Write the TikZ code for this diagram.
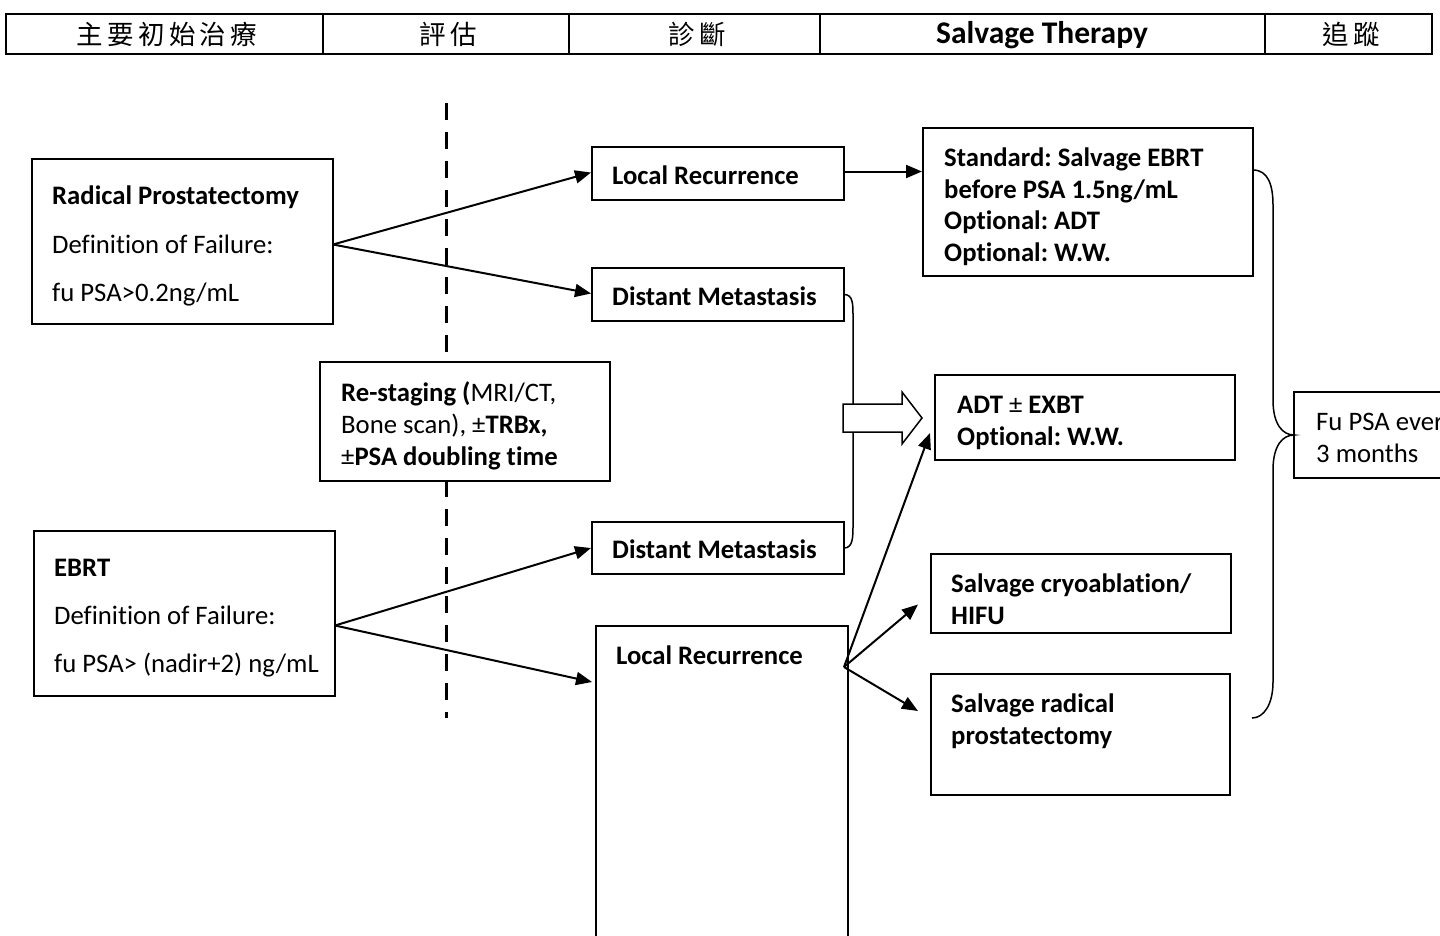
\documentclass[tikz,border=0pt]{standalone}
\usepackage{fontspec}
\setmainfont{Carlito}[Ligatures={TeX,NoCommon}]
\newfontfamily\cjk[LetterSpace=16]{Noto Sans CJK TC}
\usetikzlibrary{arrows.meta,calc}
\frenchspacing
\tikzset{
  box/.style={draw, line width=1.5pt, fill=white, inner sep=0pt, outer sep=0pt, anchor=north west},
  cell/.style={draw, line width=1.8pt, inner sep=0pt, outer sep=0pt, anchor=north west, minimum height=40pt},
  txt/.style={anchor=base west, inner sep=0pt, font=\fontsize{26.7}{32}\selectfont},
  htxt/.style={anchor=base, inner sep=0pt},
  arr/.style={line width=2pt, -{Triangle[length=16pt,width=13pt]}},
  dashline/.style={line width=3pt, dash pattern=on 17pt off 12pt},
  thin/.style={line width=1.5pt}
}
\begin{document}
\begin{tikzpicture}[x=1pt,y=-1pt]
\useasboundingbox (0,0) rectangle (1440,935);
\clip (0,0) rectangle (1440,935);
% header
\node[cell, minimum width=317pt] (h1) at (6,14) {};
\node[cell, minimum width=246pt] (h2) at (323,14) {};
\node[cell, minimum width=251pt] (h3) at (569,14) {};
\node[cell, minimum width=445pt] (h4) at (820,14) {};
\node[cell, minimum width=167pt] (h5) at (1265,14) {};
\node[htxt, font=\cjk\fontsize{26.5}{30}\selectfont] (ht1) at (167,44) {主要初始治療};
\node[htxt, font=\cjk\fontsize{26.5}{30}\selectfont] (ht2) at (448,44) {評估};
\node[htxt, font=\cjk\fontsize{26.5}{30}\selectfont] (ht3) at (697,44) {診斷};
\node[htxt, font=\bfseries\fontsize{31.5}{36}\selectfont] (ht4) at (1042,43) {Salvage Therapy};
\node[htxt, font=\cjk\fontsize{26.5}{30}\selectfont] (ht5) at (1351,44) {追蹤};
% dashed divider
\coordinate (dtop) at (446,103);
\coordinate (dbot) at (446,718);
\draw[dashline] (dtop) -- (dbot);
% boxes
\node[box, minimum width=301pt, minimum height=165pt] (rp) at (32,159) {};
\node[box, minimum width=301pt, minimum height=165pt] (ebrt) at (34,531) {};
\node[box, minimum width=290pt, minimum height=119pt] (restage) at (320,362) {};
\node[box, minimum width=252pt, minimum height=53pt] (lr1) at (592,147) {};
\node[box, minimum width=252pt, minimum height=53pt] (dm1) at (592,268) {};
\node[box, minimum width=252pt, minimum height=52pt] (dm2) at (592,522) {};
\node[box, minimum width=252pt, minimum height=340pt] (lr2) at (596,626) {};
\node[box, minimum width=330pt, minimum height=148pt] (std) at (923,128) {};
\node[box, minimum width=300pt, minimum height=85pt] (adt) at (935,375) {};
\node[box, minimum width=300pt, minimum height=79pt] (cryo) at (931,554) {};
\node[box, minimum width=299pt, minimum height=121pt] (srp) at (931,674) {};
\node[box, minimum width=200pt, minimum height=86pt] (fu) at (1294,392) {};
% texts
\node[txt] (t1) at (52,204) {\textbf{Radical Prostatectomy}};
\node[txt] (t2) at (52,253) {Definition of Failure:};
\node[txt] (t3) at (52,301) {fu PSA>0.2ng/mL};
\node[txt] (t4) at (54,576) {\textbf{EBRT}};
\node[txt] (t5) at (54,624) {Definition of Failure:};
\node[txt] (t6) at (54,672) {fu PSA> (nadir+2) ng/mL};
\node[txt] (t7) at (341,401) {\textbf{Re-staging (}MRI/CT,};
\node[txt] (t8) at (341,433) {Bone scan), ±\textbf{TRBx,}};
\node[txt] (t9) at (341,465) {±\textbf{PSA doubling time}};
\node[txt] (t10) at (612,184) {\textbf{Local Recurrence}};
\node[txt] (t11) at (612,305) {\textbf{Distant Metastasis}};
\node[txt] (t12) at (612,558) {\textbf{Distant Metastasis}};
\node[txt] (t13) at (616,664) {\textbf{Local Recurrence}};
\node[txt] (t14) at (944,166) {\textbf{Standard: Salvage EBRT}};
\node[txt] (t15) at (944,198) {\textbf{before PSA 1.5ng/mL}};
\node[txt] (t16) at (944,229) {\textbf{Optional: ADT}};
\node[txt] (t17) at (944,261) {\textbf{Optional: W.W.}};
\node[txt] (t18) at (957,413) {\textbf{ADT} ± \textbf{EXBT}};
\node[txt] (t19) at (957,445) {\textbf{Optional: W.W.}};
\node[txt] (t20) at (951,592) {\textbf{Salvage cryoablation/}};
\node[txt] (t21) at (951,624) {\textbf{HIFU}};
\node[txt] (t22) at (951,712) {\textbf{Salvage radical}};
\node[txt] (t23) at (951,744) {\textbf{prostatectomy}};
\node[txt] (t24) at (1316,430) {Fu PSA ever};
\node[txt] (t25) at (1316,462) {3 months};
% arrows
\draw[arr] ($(rp.east)+(0,3)$) -- ($(lr1.west)+(-1,-1)$);
\draw[arr] ($(rp.east)+(0,3)$) -- ($(dm1.west)+(-1,-1)$);
\draw[arr] ($(lr1.east)+(0,-2)$) -- ($(lr1.east -| std.west)+(-1,-2)$);
\draw[arr] ($(ebrt.east)+(0,12)$) -- ($(dm2.west)+(-1,0)$);
\draw[arr] ($(ebrt.east)+(0,12)$) -- ($(lr2.north west)+(-4,56)$);
\coordinate (lrout) at ($(lr2.north east)+(-4,41)$);
\draw[arr] (lrout) -- ($(adt.south west)+(-5,-27)$);
\draw[arr] (lrout) -- ($(cryo.west)+(-13,11)$);
\draw[arr] (lrout) -- ($(srp.north west)+(-13,37)$);
% bracket joining the distant metastasis boxes
\draw[thin] (dm1.east) .. controls +(9,0) and +(0,-12) .. (853,316) -- (853,525)
  .. controls +(0,12) and +(9,0) .. (dm2.east);
% hollow arrow
\draw[thin, fill=white] (843,404) -- (902,404) -- (902,392) -- (922,418) -- (902,444)
  -- (902,432) -- (843,432) -- cycle;
% brace to follow-up
\draw[thin] ($(std.north east)+(0,42)$) .. controls +(15,0) and +(0,-20) .. (1273,205)
  -- (1273,400) .. controls +(0,25) and +(-11,0) .. (fu.west)
  .. controls +(-11,0) and +(0,-25) .. (1273,470)
  -- (1273,682) .. controls +(0,22) and +(12,0) .. (1252,718);
\end{tikzpicture}
\end{document}
